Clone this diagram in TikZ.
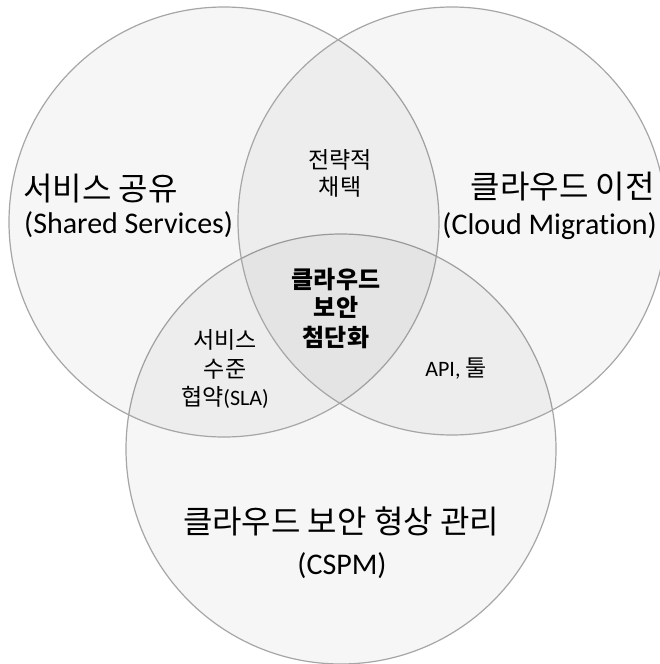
\documentclass[tikz,border=0pt]{standalone}
\usepackage{fontspec}
\setmainfont{Carlito}[Ligatures={NoCommon}]
\newfontfamily\kr{Noto Sans CJK KR}
\begin{document}
\begin{tikzpicture}[x=1pt,y=-1pt,
  venn/.style={draw=black!35,line width=1.2pt,fill=black,fill opacity=0.035},
  big/.style={inner sep=0pt,font=\fontsize{30}{36}\selectfont},
  bigkr/.style={inner sep=0pt,font=\fontsize{32}{36}\selectfont\kr},
  small/.style={inner sep=0pt,font=\fontsize{22}{27}\selectfont},
  smallkr/.style={inner sep=0pt,font=\fontsize{23}{27}\selectfont\kr},
  core/.style={inner sep=0pt,font=\fontsize{24}{27}\selectfont\kr\bfseries}]
\useasboundingbox (0,0) rectangle (660,664);
\fill[white] (0,0) rectangle (660,664);
\begin{scope}
\clip (0,0) rectangle (660,664);
% the three sets
\draw[venn] (341,449) circle (215);
\draw[venn] (224,222) circle (215);
\draw[venn] (452,221) circle (214);
\end{scope}
% set labels
\node[bigkr,anchor=base west] (shared) at (23,200) {서비스 공유};
\node[big,anchor=base west] (sharedEn) at (24,233) {(Shared Services)};
\node[bigkr,anchor=base east] (migr) at (655,198) {클라우드 이전};
\node[big,anchor=base east] (migrEn) at (657,234) {(Cloud Migration)};
\node[bigkr,anchor=base] (cspm) at (341,533) {클라우드 보안 형상 관리};
\node[big,anchor=base] (cspmEn) at (342,574) {(CSPM)};
% overlap labels
\node[smallkr,anchor=base] (strat1) at (340,168) {전략적};
\node[smallkr,anchor=base] (strat2) at (340,195) {채택};
\node[smallkr,anchor=base] (sla1) at (225,348) {서비스};
\node[smallkr,anchor=base] (sla2) at (225,377) {수준};
\node[small,anchor=base] (sla3) at (225,405) {{\kr\fontsize{23}{27}\selectfont 협약}(SLA)};
\node[small,anchor=base] (api) at (456,376) {API, {\kr\fontsize{23}{27}\selectfont 툴}};
% centre
\node[core,anchor=base] (c1) at (336,288) {클라우드};
\node[core,anchor=base] (c2) at (336,316) {보안};
\node[core,anchor=base] (c3) at (336,346) {첨단화};
\end{tikzpicture}
\end{document}
